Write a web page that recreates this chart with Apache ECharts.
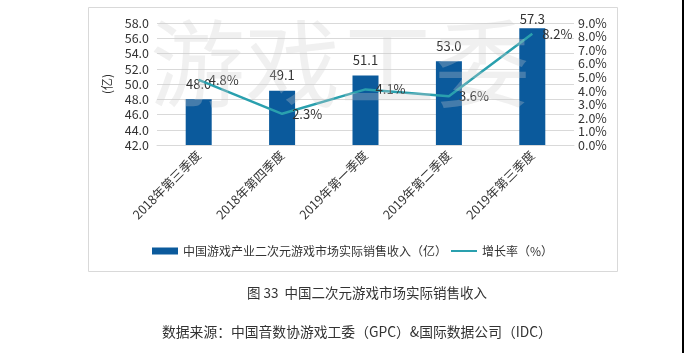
<!DOCTYPE html>
<html>
<head>
<meta charset="utf-8">
<script src="https://cdn.jsdelivr.net/npm/echarts@6/dist/echarts.min.js"></script>
<style>
  html, body { margin: 0; padding: 0; background: #fff; }
  #chart { width: 684px; height: 353px; }
</style>
</head>
<body>
<div id="chart"></div>
<script>
// 季度
const quarters = ['2018年第三季度', '2018年第四季度', '2019年第一季度', '2019年第二季度', '2019年第三季度'];
// 实际销售收入（亿）
const revenue = [48.0, 49.1, 51.1, 53.0, 57.3];
// 增长率（%）
const growth = [4.8, 2.3, 4.1, 3.6, 8.2];

const font = '"Noto Sans CJK SC", sans-serif';
const chart = echarts.init(document.getElementById('chart'));

// 最高的柱子标签贴近柱顶
const barData = revenue.map((v, i) =>
    i === revenue.length - 1 ? { value: v, label: { distance: 3 } } : v
);

chart.setOption({
    textStyle: { fontFamily: font },
    animation: false,
    grid: { left: 157, right: 110, top: 23, bottom: 208 },
    graphic: [
        {
            type: 'rect', z: -10, silent: true,
            shape: { x: 88.5, y: 7.5, width: 529, height: 264 },
            style: { fill: '#fff', stroke: '#d9d9d9', lineWidth: 1 }
        },
        {
            type: 'rect', silent: true,
            shape: { x: 682, y: 0, width: 2, height: 353 },
            style: { fill: '#000' }
        },
        {
            type: 'text', z: 100, silent: true, left: 150, top: 16,
            style: {
                text: '游戏工委', font: '400 95px ' + font,
                fill: 'rgba(205,205,205,0.3)', letterSpacing: -9
            }
        },
        {
            type: 'text', silent: true, left: 247, top: 286,
            style: { text: '图 33  中国二次元游戏市场实际销售收入', font: '13.5px ' + font, fill: '#333' }
        },
        {
            type: 'text', silent: true, left: 162, top: 325,
            style: { text: '数据来源：中国音数协游戏工委（GPC）&国际数据公司（IDC）', font: '13.8px ' + font, fill: '#333' }
        }
    ],
    legend: {
        top: 245, left: 152, padding: 0,
        itemWidth: 26, itemHeight: 7, itemGap: 4,
        textStyle: { fontSize: 12, color: '#333' },
        data: [
            { name: '中国游戏产业二次元游戏市场实际销售收入（亿）', icon: 'rect' },
            {
                name: '增长率（%）',
                icon: 'path://M0,0 M0,7 M0,2.5 L26,2.5 L26,4.5 L0,4.5 Z',
                itemStyle: { color: '#2aa0ae' }
            }
        ]
    },
    xAxis: {
        type: 'category',
        data: quarters,
        axisTick: { show: false },
        axisLine: { lineStyle: { color: '#d9d9d9' } },
        axisLabel: { rotate: 45, fontSize: 12.5, color: '#333', interval: 0, margin: 8 }
    },
    yAxis: [
        {
            type: 'value', min: 42, max: 58, interval: 2,
            name: '(亿)', nameLocation: 'middle', nameRotate: 90, nameGap: 40,
            nameTextStyle: { fontSize: 12, color: '#333' },
            axisLine: { show: false }, axisTick: { show: false },
            axisLabel: { fontSize: 12.5, color: '#333', formatter: v => v.toFixed(1), margin: 8 },
            splitLine: { lineStyle: { color: '#d9d9d9' } }
        },
        {
            type: 'value', min: 0, max: 9, interval: 1,
            axisLine: { show: false }, axisTick: { show: false },
            axisLabel: { fontSize: 12.5, color: '#333', formatter: v => v.toFixed(1) + '%', margin: 4 },
            splitLine: { show: false }
        }
    ],
    series: [
        {
            name: '中国游戏产业二次元游戏市场实际销售收入（亿）',
            type: 'bar',
            data: barData,
            barWidth: 26,
            itemStyle: { color: '#0b5a9c' },
            label: {
                show: true, position: 'top', distance: 9,
                fontSize: 13, color: '#333', formatter: p => p.value.toFixed(1)
            }
        },
        {
            name: '增长率（%）',
            type: 'line',
            yAxisIndex: 1,
            data: growth,
            symbol: 'circle',
            symbolSize: 0.1,
            lineStyle: { color: '#2aa0ae', width: 2.5 },
            itemStyle: { color: '#2aa0ae' },
            label: {
                show: true, position: 'right', distance: 10,
                fontSize: 13, color: '#333', formatter: p => p.value.toFixed(1) + '%'
            }
        }
    ]
});
</script>
</body>
</html>
